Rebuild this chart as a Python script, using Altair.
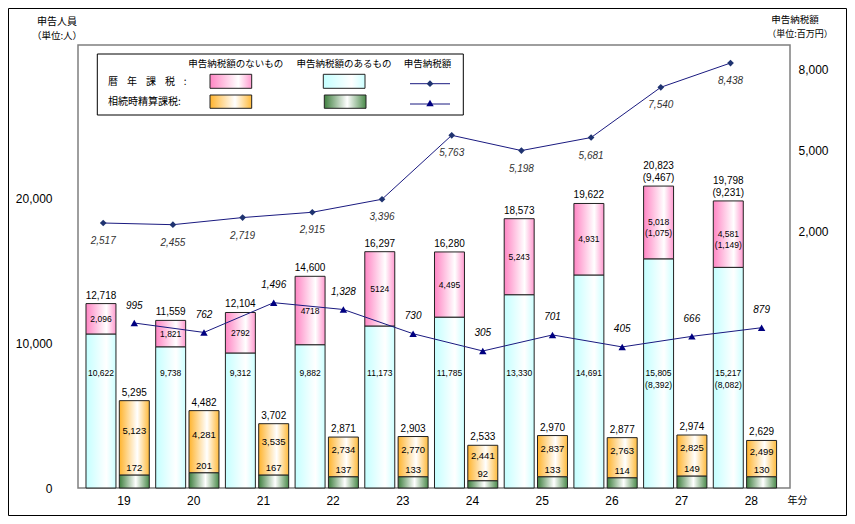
import altair as alt
import pandas as pd

# ---------------- data ----------------
years = ["19", "20", "21", "22", "23", "24", "25", "26", "27", "28"]

# 暦年課税 (申告人員)
cal_with_tax = [10622, 9738, 9312, 9882, 11173, 11785, 13330, 14691, 15805, 15217]
cal_no_tax = [2096, 1821, 2792, 4718, 5124, 4495, 5243, 4931, 5018, 4581]
cal_total_lbl = ["12,718", "11,559", "12,104", "14,600", "16,297", "16,280",
                 "18,573", "19,622", "20,823", "19,798"]
cal_total_paren = ["", "", "", "", "", "", "", "", "(9,467)", "(9,231)"]
cal_no_tax_lbl = ["2,096", "1,821", "2792", "4718", "5124", "4,495", "5,243",
                  "4,931", "5,018\n(1,075)", "4,581\n(1,149)"]
cal_with_tax_lbl = ["10,622", "9,738", "9,312", "9,882", "11,173", "11,785",
                    "13,330", "14,691", "15,805\n(8,392)", "15,217\n(8,082)"]

# 相続時精算課税 (申告人員)
set_with_tax = [172, 201, 167, 137, 133, 92, 133, 114, 149, 130]
# heights of the green segments as drawn in the picture
set_with_tax_drawn = [900, 1055, 900, 780, 780, 505, 780, 710, 830, 780]
set_no_tax = [5123, 4281, 3535, 2734, 2770, 2441, 2837, 2763, 2825, 2499]
set_total_lbl = ["5,295", "4,482", "3,702", "2,871", "2,903", "2,533",
                 "2,970", "2,877", "2,974", "2,629"]
set_no_tax_lbl = ["5,123", "4,281", "3,535", "2,734", "2,770", "2,441",
                  "2,837", "2,763", "2,825", "2,499"]
set_with_tax_lbl = ["172", "201", "167", "137", "133", "92", "133", "114", "149", "130"]

# 申告納税額 (百万円)
cal_tax = [2517, 2455, 2719, 2915, 3396, 5763, 5198, 5681, 7540, 8438]
cal_tax_lbl = ["2,517", "2,455", "2,719", "2,915", "3,396", "5,763", "5,198",
               "5,681", "7,540", "8,438"]
set_tax = [995, 762, 1496, 1328, 730, 305, 701, 405, 666, 879]
set_tax_lbl = ["995", "762", "1,496", "1,328", "730", "305", "701", "405", "666", "879"]

# ---------------- table ----------------
idx = list(range(len(years)))
df = pd.DataFrame({
    "i": idx,
    "year": years,
    "cw": cal_with_tax, "cn": cal_no_tax,
    "ct_lbl": cal_total_lbl, "ct_paren": cal_total_paren,
    "cn_lbl": cal_no_tax_lbl, "cw_lbl": cal_with_tax_lbl,
    "sw": set_with_tax_drawn, "sn": set_no_tax,
    "st_lbl": set_total_lbl, "sn_lbl": set_no_tax_lbl, "sw_lbl": set_with_tax_lbl,
    "ctax": cal_tax, "ctax_lbl": cal_tax_lbl,
    "stax": set_tax, "stax_lbl": set_tax_lbl,
})
df["zero"] = 0
df["ctot"] = df["cw"] + df["cn"]
df["cmid"] = df["cw"] + df["cn"] / 2
df["stot"] = df["sw"] + df["sn"]
df["smid"] = df["sw"] + df["sn"] / 2
df["cw_y"] = 7900
df["c_x"] = df["i"] - 0.452
df["c_x2"] = df["i"] - 0.022
df["c_xm"] = df["i"] - 0.237
df["s_x"] = df["i"] + 0.026
df["s_x2"] = df["i"] + 0.456
df["s_xm"] = df["i"] + 0.241
df["d_x"] = df["i"] - 0.205

one = pd.DataFrame({"a": [0]})

NUM = "Liberation Sans"
JP = "Noto Sans CJK JP"

def grad(edge, mid, pos, edge2=None):
    return {"gradient": "linear", "x1": 0, "x2": 1, "y1": 0, "y2": 0,
            "stops": [{"offset": 0, "color": edge},
                      {"offset": pos, "color": mid},
                      {"offset": 1, "color": edge2 or edge}]}

PINK = grad("#FF86C4", "#FFFFFF", 0.68, "#FF9ACF")
CYAN = grad("#C4FFFF", "#FFFFFF", 0.68, "#CCFFFF")
ORANGE = grad("#FFB42E", "#FFFFFF", 0.6, "#FFBA3A")
GREEN = grad("#3F7F3F", "#FFFFFF", 0.55, "#4A8A4A")

XS = alt.Scale(domain=[-0.5667, 9.6485], nice=False, zero=False)
YL = alt.Scale(domain=[0, 30552], nice=False, zero=False)
YD = alt.Scale(domain=[-7290, 9105], nice=False, zero=False)
YT = alt.Scale(domain=[-3073, 7849], nice=False, zero=False)

labelexpr = "[" + ",".join("'%s'" % y for y in years) + "][datum.value]"
XAX = alt.Axis(values=idx, labelExpr=labelexpr, title=None, grid=False, domain=False,
               ticks=False, tickSize=0, labelPadding=7, labelOffset=6, labelFontSize=12,
               labelFont=NUM, labelColor="black", labelFontWeight="normal")
YAX = alt.Axis(values=[0, 10000, 20000], format=",.0f", title=None, grid=False, domain=False,
               ticks=False, tickSize=0, labelPadding=26, labelFontSize=12, labelFont=NUM,
               labelColor="black")
RAX = alt.Axis(orient="right", values=[2000, 5000, 8000], format=",.0f", title=None, grid=False,
               domain=False, ticks=False, tickSize=0, labelPadding=8, labelOffset=-5,
               labelFontSize=12, labelFont=NUM, labelColor="black")

base = alt.Chart(df)

def X(f):
    return alt.X(f + ":Q", scale=XS, axis=XAX)

def YLf(f):
    return alt.Y(f + ":Q", scale=YL, axis=YAX)

def rect(fill, x, x2, y, y2):
    return base.mark_rect(fill=fill, stroke="#222222", strokeWidth=1).encode(
        x=X(x), x2=x2, y=YLf(y), y2=y2)

single = base.transform_filter("datum.ct_paren == ''")
double = base.transform_filter("datum.ct_paren != ''")

bars = alt.layer(
    rect(CYAN, "c_x", "c_x2", "zero", "cw"),
    rect(PINK, "c_x", "c_x2", "cw", "ctot"),
    rect(GREEN, "s_x", "s_x2", "zero", "sw"),
    rect(ORANGE, "s_x", "s_x2", "sw", "stot"),
    # value labels
    single.mark_text(font=NUM, fontSize=10, baseline="bottom", dy=-3,
                     color="black").encode(
        x=X("c_xm"), y=YLf("ctot"), text="ct_lbl:N"),
    double.mark_text(font=NUM, fontSize=10, baseline="bottom", dy=-15,
                     color="black").encode(
        x=X("c_xm"), y=YLf("ctot"), text="ct_lbl:N"),
    double.mark_text(font=NUM, fontSize=10, baseline="bottom", dy=-3,
                     color="black").encode(
        x=X("c_xm"), y=YLf("ctot"), text="ct_paren:N"),
    base.mark_text(font=NUM, fontSize=8.5, baseline="middle", lineBreak="\n",
                   lineHeight=11, color="black").encode(
        x=X("c_xm"), y=YLf("cmid"), text="cn_lbl:N"),
    base.mark_text(font=NUM, fontSize=8.5, baseline="middle", lineBreak="\n",
                   lineHeight=12, color="black").encode(
        x=X("c_xm"), y=YLf("cw_y"), text="cw_lbl:N"),
    base.mark_text(font=NUM, fontSize=10, baseline="bottom", dy=-3,
                   color="black").encode(
        x=X("s_xm"), y=YLf("stot"), text="st_lbl:N"),
    base.mark_text(font=NUM, fontSize=9.5, baseline="middle", dy=-7,
                   color="black").encode(
        x=X("s_xm"), y=YLf("smid"), text="sn_lbl:N"),
    base.mark_text(font=NUM, fontSize=9.5, baseline="middle", dy=-7,
                   color="black").encode(
        x=X("s_xm"), y=YLf("sw"), text="sw_lbl:N"),
)

LINE = "#1A1A80"

diamond = alt.layer(
    base.mark_line(color=LINE, strokeWidth=1).encode(
        x=X("d_x"), y=alt.Y("ctax:Q", scale=YD, axis=RAX)),
    base.mark_point(shape="diamond", filled=True, size=45, color="#1F3370", opacity=1).encode(
        x=X("d_x"), y=alt.Y("ctax:Q", scale=YD, axis=RAX)),
    base.mark_text(font=NUM, fontSize=10, fontStyle="italic", dy=18, baseline="middle",
                   color="#333333").encode(
        x=X("d_x"), y=alt.Y("ctax:Q", scale=YD, axis=RAX), text="ctax_lbl:N"),
)

triangle = alt.layer(
    base.mark_line(color=LINE, strokeWidth=1).encode(
        x=X("s_xm"), y=alt.Y("stax:Q", scale=YT, axis=None)),
    base.mark_point(shape="triangle-up", filled=True, size=55, color="#000080", opacity=1).encode(
        x=X("s_xm"), y=alt.Y("stax:Q", scale=YT, axis=None)),
    base.mark_text(font=NUM, fontSize=10, fontStyle="italic", dy=-17.5, baseline="middle",
                   color="black").encode(
        x=X("s_xm"), y=alt.Y("stax:Q", scale=YT, axis=None), text="stax_lbl:N"),
)

# ---------------- annotations (legend, titles) in pixel space ----------------
ann = []

def txt(s, x, y, size=10, align="center", font=JP, **kw):
    ann.append(alt.Chart(one).mark_text(text=s, fontSize=size, align=align, font=font,
                                        baseline="middle", color="black", **kw)
               .encode(x=alt.value(x), y=alt.value(y)))

def box(x, x2, y, y2, fill, stroke="#222222", sw=1):
    kw = dict(stroke=stroke, strokeWidth=sw)
    if fill is None:
        m = alt.Chart(one).mark_rect(filled=False, **kw)
    else:
        m = alt.Chart(one).mark_rect(fill=fill, **kw)
    ann.append(m.encode(x=alt.value(x), x2=alt.value(x2), y=alt.value(y), y2=alt.value(y2)))

# outer frame
box(-69.5, 768.5, -36.5, 470.5, None, stroke="#000000", sw=1)

# legend box
NB = "\u00a0" * 4
box(19.3, 385.3, 9, 70, "white", stroke="#000000", sw=1)
txt("申告納税額のないもの", 157.8, 19, size=9.5)
txt("申告納税額のあるもの", 266, 19, size=9.5)
txt("申告納税額", 349.5, 19, size=9.5)
txt(NB.join(["暦", "年", "課", "税", ":"]), 30, 36.7, size=10, align="left")
txt("相続時精算課税:", 30, 57.3, size=10, align="left")
box(132, 173.7, 29.3, 43.3, PINK)
box(245.3, 287, 29.3, 43.3, CYAN)
box(132, 173.7, 50, 63.3, ORANGE)
box(246.3, 288, 50, 63.3, GREEN)
ann.append(alt.Chart(one).mark_rule(color=LINE, strokeWidth=1).encode(
    x=alt.value(332), x2=alt.value(372), y=alt.value(38.7)))
ann.append(alt.Chart(one).mark_point(shape="diamond", filled=True, size=45,
                                     color="#1F3370", opacity=1).encode(
    x=alt.value(352), y=alt.value(38.7)))
ann.append(alt.Chart(one).mark_rule(color=LINE, strokeWidth=1).encode(
    x=alt.value(332), x2=alt.value(372), y=alt.value(59)))
ann.append(alt.Chart(one).mark_point(shape="triangle-up", filled=True, size=55,
                                     color="#000080", opacity=1).encode(
    x=alt.value(352), y=alt.value(58)))

# axis titles
txt("申告人員", -21, -23.3, size=10)
txt("（単位:人）", -21, -9.3, size=9.5)
txt("申告納税額", 717, -25, size=9.5)
txt("（単位:百万円）", 722, -10.7, size=9)
txt("年分", 719.5, 456, size=10)

chart = alt.layer(bars, diamond, triangle, *ann).resolve_scale(
    y="independent"
).properties(
    width=712, height=443,
    autosize=alt.AutoSizeParams(type="none"),
    padding={"left": 70, "top": 37, "right": 57, "bottom": 28},
    background="white",
).configure_view(stroke="#7F7F7F", strokeWidth=1.5)

chart.save("out.html", embed_options={"renderer": "svg", "actions": False})
